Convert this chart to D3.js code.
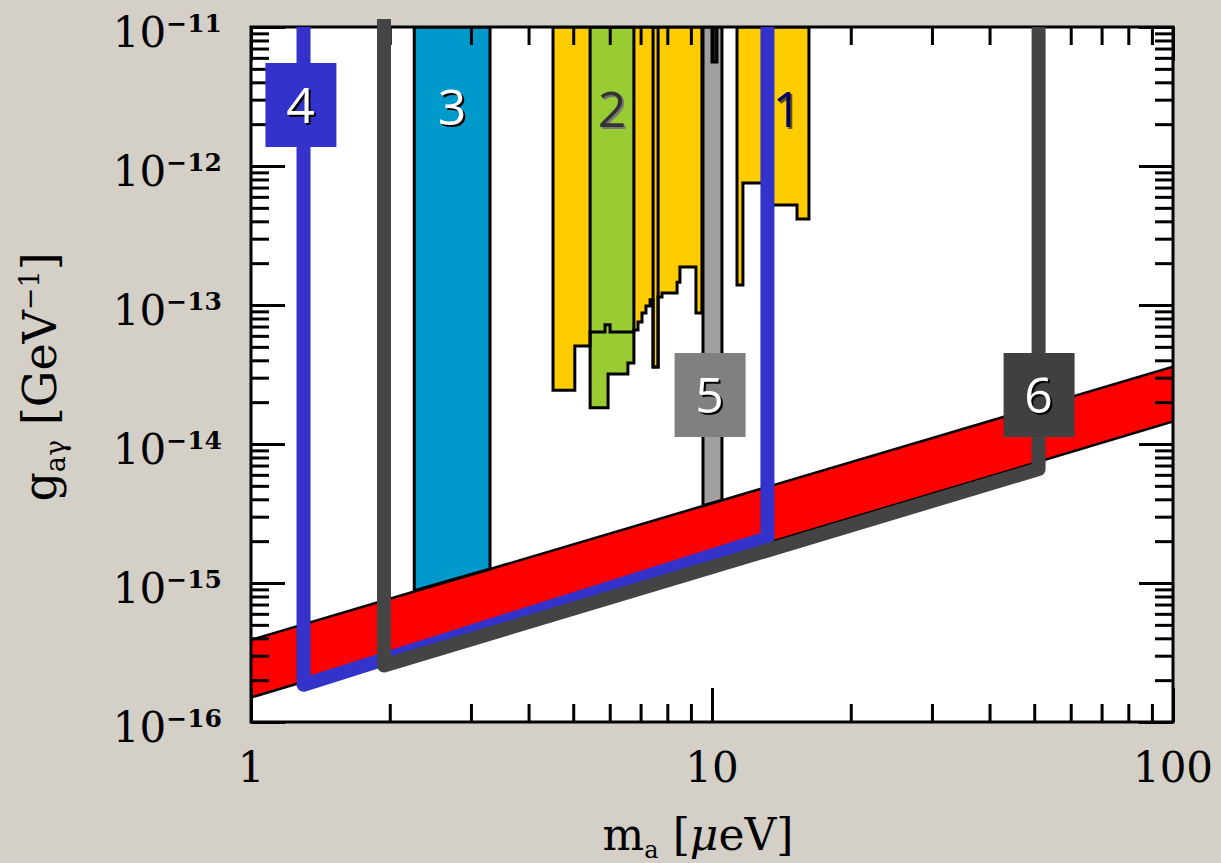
<!DOCTYPE html>
<html>
<head>
<meta charset="utf-8">
<script src="https://cdn.jsdelivr.net/npm/d3@7"></script>
<style>
  body { margin: 0; background: #d4d0c8; }
  svg { display: block; }
</style>
</head>
<body>
<div id="chart"></div>
<script>
var svgWidth = 1221;
var svgHeight = 863;

var margin = {
  top: 27,
  right: 48,
  bottom: 141,
  left: 251
};

var width = svgWidth - margin.left - margin.right;
var height = svgHeight - margin.top - margin.bottom;

// axes: axion mass in micro-eV, coupling in GeV^-1
var massTicks = [1, 10, 100];
var massTickLabels = ["1", "10", "100"];
var couplingTicks = [1e-16, 1e-15, 1e-14, 1e-13, 1e-12, 1e-11];
var couplingExponents = ["\u221216", "\u221215", "\u221214", "\u221213", "\u221212", "\u221211"];

// KSVZ / DFSZ band (red), edges at m = 1 and m = 100
var bandMass = [1, 100];
var bandUpper = [3.9e-16, 3.6e-14];
var bandLower = [1.5e-16, 1.45e-14];

// region 3 (blue), bottom sits on the band
var blueMass = [2.26, 3.30];
var blueBottom = [8.8e-16, 1.26e-15];

// region 5 (grey) and the dark sliver inside it
var greyMass = [9.56, 10.51];
var greyBottom = [3.6e-15, 3.95e-15];
var greyCoreMass = [10.0, 10.25];
var greyCoreBottom = [5.6e-12, 5.6e-12];

// yellow exclusion, stepped: edges in mass, one bottom per step
var yellowEdges = [4.52, 5.04, 5.44, 5.86, 6.01, 6.77, 6.91, 7.05, 7.19, 7.34, 7.45, 7.64, 7.79, 8.40, 8.52, 9.23, 9.51];
var yellowSteps = [2.44e-14, 5.07e-14, 6.4e-14, 7.2e-14, 6.4e-14, 6.61e-14, 7.55e-14, 8.76e-14, 9.84e-14, 1.09e-13,
                   3.58e-14, 1.14e-13, 1.22e-13, 1.46e-13, 1.88e-13, 8.76e-14];
// the narrow spike inside it, outlined on its own
var spikeMass = [7.45, 7.64];
var spikeBottom = [3.58e-14, 3.58e-14];

// region 2 (green)
var greenEdges = [5.44, 5.95, 6.57, 6.77];
var greenSteps = [1.82e-14, 3.19e-14, 3.83e-14];

// region 1 (yellow, right)
var yellowOneEdges = [11.33, 11.67, 13.03, 15.29, 16.23];
var yellowOneSteps = [1.39e-13, 7.55e-13, 5.24e-13, 4.16e-13];

// projected sensitivity outlines 4 (blue) and 6 (dark grey)
var lineFourMass = [1.30, 1.30, 13.19, 13.19];
var lineFourG = [1e-11, 1.85e-16, 2.11e-15, 1e-11];
var lineSixMass = [1.943, 1.943, 51.1, 51.1];
var lineSixG = [1.14e-11, 2.55e-16, 6.6e-15, 1e-11];

var svg = d3.select("#chart")
  .append("svg")
  .attr("width", svgWidth)
  .attr("height", svgHeight);

svg.append("rect")
  .attr("width", svgWidth)
  .attr("height", svgHeight)
  .attr("fill", "#d4d0c8");

var chartGroup = svg.append("g")
  .attr("transform", `translate(${margin.left}, ${margin.top})`);

var x = d3.scaleLog().domain([1, 100]).range([0, width]);
var y = d3.scaleLog().domain([1e-16, 1e-11]).range([height, 0]);
var gTop = y.domain()[1];

chartGroup.append("defs").append("clipPath")
  .attr("id", "plotClip")
  .append("rect")
  .attr("width", width)
  .attr("height", height);

chartGroup.append("rect")
  .attr("width", width)
  .attr("height", height)
  .attr("fill", "#ffffff");

var line = d3.line()
  .x(d => x(d[0]))
  .y(d => y(d[1]));

function stepPoints(edges, steps) {
  var pts = [[edges[0], gTop]];
  steps.forEach(function(s, i) {
    pts.push([edges[i], s]);
    pts.push([edges[i + 1], s]);
  });
  pts.push([edges[edges.length - 1], gTop]);
  return pts;
}

function slabPoints(mass, bottom) {
  return [[mass[0], gTop], [mass[0], bottom[0]], [mass[1], bottom[1]], [mass[1], gTop]];
}

var plot = chartGroup.append("g").attr("clip-path", "url(#plotClip)");

// band
var bandPts = [[bandMass[0], bandUpper[0]], [bandMass[1], bandUpper[1]],
               [bandMass[1], bandLower[1]], [bandMass[0], bandLower[0]]];
plot.append("path")
  .attr("d", line(bandPts) + "Z")
  .attr("fill", "#ff0000");
plot.append("path")
  .attr("d", line([[bandMass[0], bandUpper[0]], [bandMass[1], bandUpper[1]]]))
  .attr("stroke", "#000").attr("stroke-width", 2.5).attr("fill", "none");
plot.append("path")
  .attr("d", line([[bandMass[0], bandLower[0]], [bandMass[1], bandLower[1]]]))
  .attr("stroke", "#000").attr("stroke-width", 2.5).attr("fill", "none");

// exclusion regions: fills first, outlines on top
var regions = [
  {pts: slabPoints(blueMass, blueBottom), fill: "#0099cc"},
  {pts: stepPoints(yellowEdges, yellowSteps), fill: "#ffcc00"},
  {pts: slabPoints(spikeMass, spikeBottom), fill: "#ffcc00"},
  {pts: stepPoints(greenEdges, greenSteps), fill: "#99cc33"},
  {pts: slabPoints(greyMass, greyBottom), fill: "#a0a0a0"},
  {pts: slabPoints(greyCoreMass, greyCoreBottom), fill: "#222222"},
  {pts: stepPoints(yellowOneEdges, yellowOneSteps), fill: "#ffcc00"}
];

plot.selectAll(".regionFill")
  .data(regions)
  .enter()
  .append("path")
  .attr("class", "regionFill")
  .attr("d", d => line(d.pts) + "Z")
  .attr("fill", d => d.fill);

plot.selectAll(".regionEdge")
  .data(regions)
  .enter()
  .append("path")
  .attr("class", "regionEdge")
  .attr("d", d => line(d.pts) + "Z")
  .attr("fill", "none")
  .attr("stroke", "#000")
  .attr("stroke-width", 3)
  .attr("stroke-linejoin", "miter");

// ticks on all four sides, pointing in
var minorMass = [];
[1, 10].forEach(function(d) { for (var k = 2; k < 10; k++) minorMass.push(k * d); });
var minorG = [];
couplingTicks.slice(0, -1).forEach(function(d) { for (var k = 2; k < 10; k++) minorG.push(k * d); });

function styleAxis(g) {
  g.select(".domain").remove();
  g.selectAll("line").attr("stroke", "#000").attr("stroke-width", 3);
  g.selectAll("text").remove();
}

chartGroup.append("g").attr("transform", `translate(0, ${height})`)
  .call(d3.axisBottom(x).tickValues(massTicks).tickSize(-34)).call(styleAxis);
chartGroup.append("g").attr("transform", `translate(0, ${height})`)
  .call(d3.axisBottom(x).tickValues(minorMass).tickSize(-18)).call(styleAxis);
chartGroup.append("g")
  .call(d3.axisTop(x).tickValues(massTicks).tickSize(-34)).call(styleAxis);
chartGroup.append("g")
  .call(d3.axisTop(x).tickValues(minorMass).tickSize(-18)).call(styleAxis);
chartGroup.append("g")
  .call(d3.axisLeft(y).tickValues(couplingTicks).tickSize(-34)).call(styleAxis);
chartGroup.append("g")
  .call(d3.axisLeft(y).tickValues(minorG).tickSize(-18)).call(styleAxis);
chartGroup.append("g").attr("transform", `translate(${width}, 0)`)
  .call(d3.axisRight(y).tickValues(couplingTicks).tickSize(-34)).call(styleAxis);
chartGroup.append("g").attr("transform", `translate(${width}, 0)`)
  .call(d3.axisRight(y).tickValues(minorG).tickSize(-18)).call(styleAxis);

chartGroup.append("rect")
  .attr("width", width)
  .attr("height", height)
  .attr("fill", "none")
  .attr("stroke", "#000")
  .attr("stroke-width", 3);

// sensitivity outlines (not clipped, 6 pokes over the top)
chartGroup.append("path")
  .attr("d", line(lineFourMass.map((m, i) => [m, lineFourG[i]])))
  .attr("fill", "none")
  .attr("stroke", "#3333cc")
  .attr("stroke-width", 14)
  .attr("stroke-linejoin", "round");

chartGroup.append("path")
  .attr("d", line(lineSixMass.map((m, i) => [m, lineSixG[i]])))
  .attr("fill", "none")
  .attr("stroke", "#444444")
  .attr("stroke-width", 14)
  .attr("stroke-linejoin", "round");

// number labels
var boxes = [
  {m: 1.28, y: 78, fill: "#3333cc"},
  {m: 9.88, y: 368, fill: "#808080"},
  {m: 51.1, y: 368, fill: "#404040"}
];

boxes.forEach(function(b) {
  var cx = x(b.m);
  chartGroup.append("rect")
    .attr("x", cx - 35)
    .attr("y", b.y - 42)
    .attr("width", 71)
    .attr("height", 84)
    .attr("fill", b.fill);
});

var labels = [
  {text: "4", m: 1.28, y: 78, color: "#ffffff", shadow: "#000000"},
  {text: "5", m: 9.88, y: 368, color: "#ffffff", shadow: "#000000"},
  {text: "6", m: 51.1, y: 368, color: "#ffffff", shadow: "#000000"},
  {text: "3", m: 2.73, y: 80, color: "#ffffff", shadow: "#000000"},
  {text: "2", m: 6.07, y: 82, color: "#333333", shadow: "#777777"},
  {text: "1", m: 14.55, y: 82, color: "#000066", shadow: "#665500"}
];

labels.forEach(function(l) {
  [[2, 2, l.shadow], [0, 0, l.color]].forEach(function(s) {
    chartGroup.append("text")
      .attr("x", x(l.m) + s[0])
      .attr("y", l.y + s[1])
      .attr("dy", "0.36em")
      .attr("text-anchor", "middle")
      .attr("font-family", "'Open Sans', 'DejaVu Sans', sans-serif")
      .attr("font-size", "50px")
      .attr("fill", s[2])
      .text(l.text);
  });
});

// tick labels
var serif = "'DejaVu Serif', 'Liberation Serif', serif";

chartGroup.selectAll(".massLabel")
  .data(massTicks)
  .enter()
  .append("text")
  .attr("class", "massLabel")
  .attr("x", d => x(d))
  .attr("y", height + 60)
  .attr("text-anchor", "middle")
  .attr("font-family", serif)
  .attr("font-size", "42px")
  .attr("fill", "#000")
  .text((d, i) => massTickLabels[i]);

var gLabels = chartGroup.selectAll(".gLabel")
  .data(couplingTicks)
  .enter()
  .append("text")
  .attr("class", "gLabel")
  .attr("x", -29)
  .attr("y", d => y(d) + 20)
  .attr("text-anchor", "end")
  .attr("font-family", serif)
  .attr("fill", "#000");
gLabels.append("tspan").attr("font-size", "42px").text("10");
gLabels.append("tspan")
  .attr("font-size", "25px")
  .attr("font-weight", "bold")
  .attr("dy", -15)
  .text((d, i) => couplingExponents[i]);

// axis titles
var xTitle = svg.append("text")
  .attr("x", 698)
  .attr("y", 850)
  .attr("text-anchor", "middle")
  .attr("font-family", serif)
  .attr("font-size", "44px")
  .attr("fill", "#000");
xTitle.append("tspan").text("m");
xTitle.append("tspan").attr("font-size", "24px").attr("dy", 8).text("a");
xTitle.append("tspan").attr("dy", -8).text(" [");
xTitle.append("tspan").attr("font-style", "italic").text("\u03bc");
xTitle.append("tspan").text("eV]");

var yTitle = svg.append("text")
  .attr("transform", "translate(56, 377) rotate(-90)")
  .attr("text-anchor", "middle")
  .attr("font-family", serif)
  .attr("font-size", "46px")
  .attr("fill", "#000");
yTitle.append("tspan").text("g");
yTitle.append("tspan").attr("font-size", "27px").attr("dy", 9).text("a\u03b3");
yTitle.append("tspan").attr("dy", -9).text(" [GeV");
yTitle.append("tspan").attr("font-size", "27px").attr("dy", -17).text("\u22121");
yTitle.append("tspan").attr("dy", 17).text("]");
</script>
</body>
</html>
